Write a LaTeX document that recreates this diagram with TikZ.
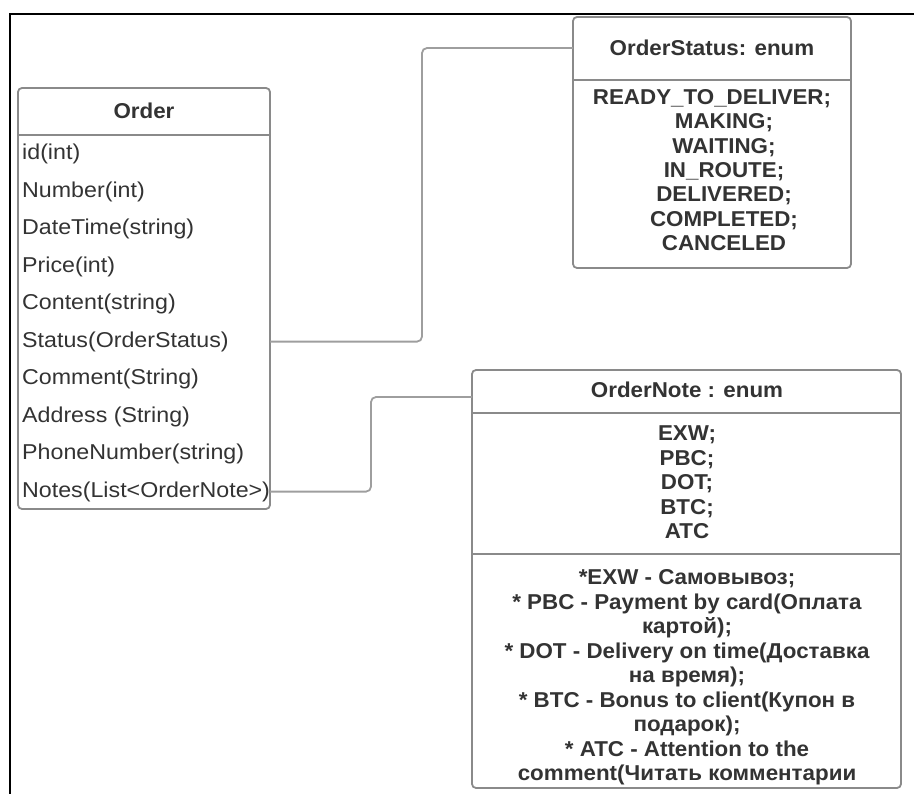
\documentclass[tikz,border=0pt]{standalone}
\usepackage{fontspec}
\setmainfont{Liberation Sans}[FakeStretch=1.04]
\newfontfamily\attrfont{Liberation Sans}[FakeStretch=1.08]
\definecolor{boxgray}{RGB}{138,138,138}
\definecolor{linkgray}{RGB}{158,158,158}
\definecolor{ink}{RGB}{51,51,51}
\begin{document}
\begin{tikzpicture}[x=1pt,y=-1pt,
  umlbox/.style={draw=boxgray, line width=1.8pt, rounded corners=4pt, fill=white,
                 inner sep=0pt, outer sep=0pt},
  divider/.style={draw=boxgray, line width=1.8pt},
  link/.style={draw=linkgray, line width=1.8pt, rounded corners=5pt},
  title/.style={font=\fontsize{21.5}{24}\selectfont\bfseries, text=ink, inner sep=0pt, anchor=base},
  attr/.style={font=\attrfont\fontsize{21.5}{24}\selectfont, text=ink, inner sep=0pt, anchor=base west},
  lit/.style={font=\fontsize{21.5}{24}\selectfont\bfseries, text=ink, inner sep=0pt, anchor=base},
  frame/.style={draw=black, line width=1.6pt}]
\useasboundingbox (0,0) rectangle (914,794);

% page frame (top and left edges)
\draw[frame] (10,794) -- (10,14) -- (914,14);

% ---- class Order ----
\node[umlbox, minimum width=252pt, minimum height=421pt] (order) at (144,298.5) {};
\draw[divider] (18,135) -- (270,135);
\node[title] (ordertitle) at (144,118.7) {Order};
\foreach \t [count=\i from 0] in {id(int), Number(int), DateTime(string), Price(int),
    Content(string), Status(OrderStatus), Comment(String), Address (String),
    PhoneNumber(string), Notes(List<OrderNote>)}
  \node[attr] (a\i) at (22,{152+37.5*\i+7.7}) {\t};

% ---- enum OrderStatus ----
\node[umlbox, minimum width=278pt, minimum height=251pt] (ostatus) at (712,142.5) {};
\draw[divider] (573,80) -- (851,80);
\node[title] (ostitle) at (712,55.7) {OrderStatus: enum};
\node[lit] (s0) at (712,104.7) {READY\_TO\_DELIVER;};
\foreach \t [count=\i from 1] in {MAKING;, WAITING;, IN\_ROUTE;, DELIVERED;,
    COMPLETED;, CANCELED}
  \node[lit] (s\i) at (724,{97+24.3*\i+7.7}) {\t};

% ---- enum OrderNote ----
\node[umlbox, minimum width=429pt, minimum height=418pt] (onote) at (686.5,579) {};
\draw[divider] (472,413) -- (901,413);
\draw[divider] (472,554) -- (901,554);
\node[title] (ontitle) at (687,397.7) {OrderNote : enum};
\foreach \t [count=\i from 0] in {EXW;, PBC;, DOT;, BTC;, ATC}
  \node[lit] (e\i) at (687,{433+24.5*\i+7.7}) {\t};
\foreach \t [count=\i from 0] in {*EXW - Самовывоз;, * PBC - Payment by card(Оплата,
    картой);, * DOT - Delivery on time(Доставка, на время);,
    * BTC - Bonus to client(Купон в, подарок);, * ATC - Attention to the,
    comment(Читать комментарии}
  \node[lit] (n\i) at (687,{577+24.5*\i+7.7}) {\t};

% ---- associations ----
\coordinate (noteport) at (472,397);
\draw[link] (order.east |- a5) -- ++(152,0) |- (ostatus.west |- ostitle);
\draw[link] (order.east |- a9) -- ++(101,0) |- (onote.west |- noteport);
\end{tikzpicture}
\end{document}
